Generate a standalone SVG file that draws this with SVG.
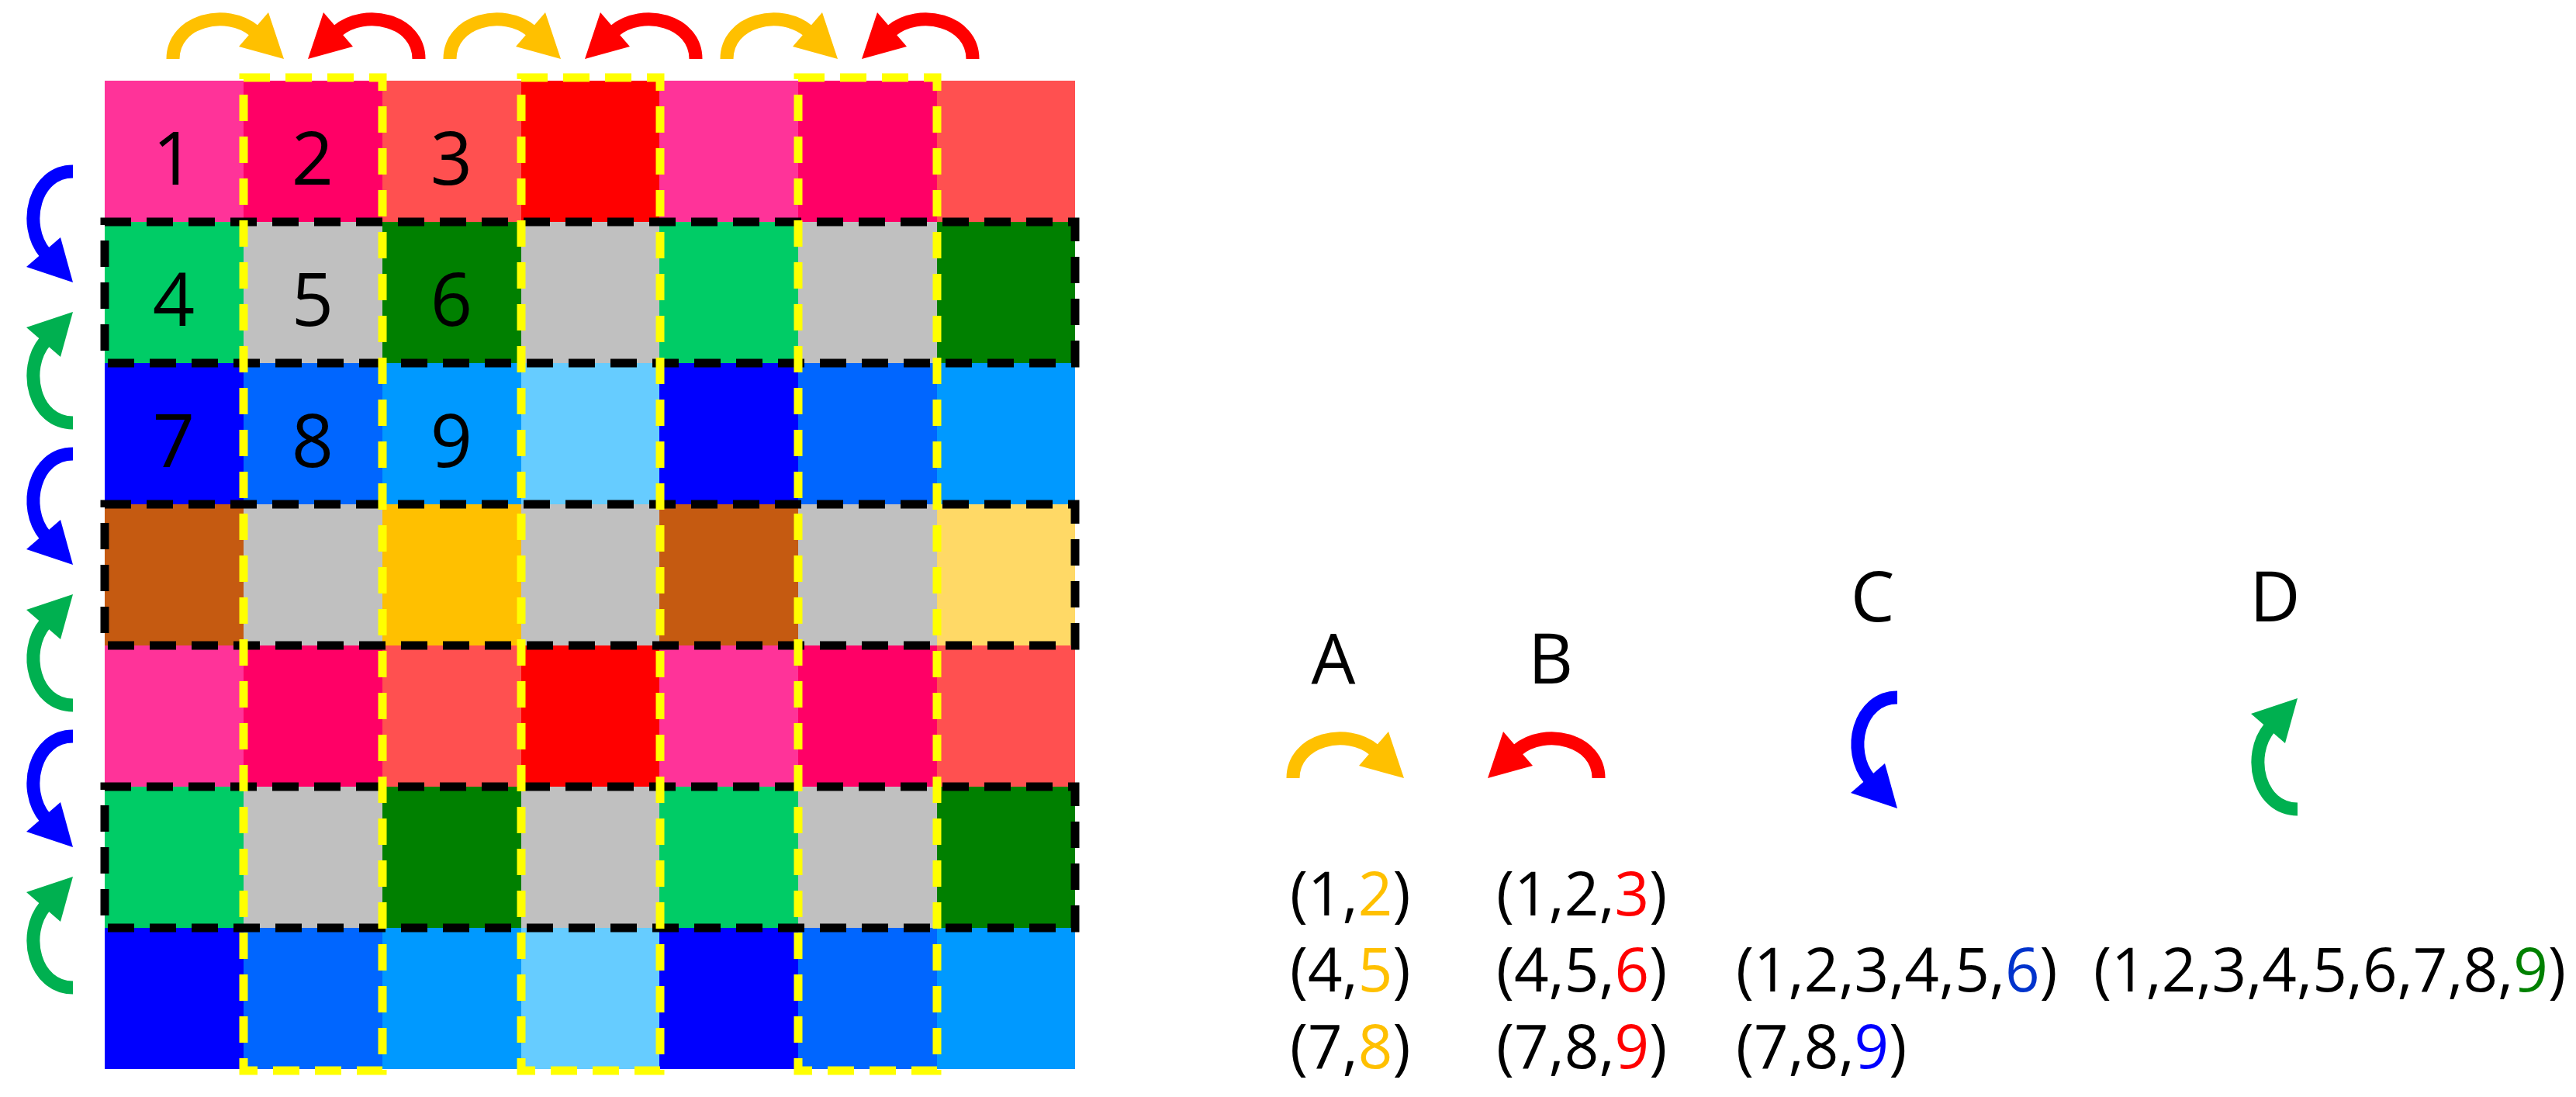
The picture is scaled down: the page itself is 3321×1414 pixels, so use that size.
<svg xmlns="http://www.w3.org/2000/svg" xmlns:xlink="http://www.w3.org/1999/xlink" width="3321" height="1414" viewBox="0 0 3321 1414">
<style>
text{font-family:"Open Sans","Noto Sans","Liberation Sans",sans-serif;fill:#000}
.d{font-size:95px;text-anchor:middle}
.l{font-size:90px;text-anchor:middle}
.t{font-size:78px}
.rowbox{fill:none;stroke:#000;stroke-width:11;stroke-dasharray:34 20}
.colbox{fill:none;stroke:#FFFF00;stroke-width:11;stroke-dasharray:34 20}
.o{fill:#FFC000;stroke:#FFC000}.r{fill:#FF0000;stroke:#FF0000}.b{fill:#0000FF;stroke:#0000FF}.g{fill:#00B050;stroke:#00B050}
</style>
<defs>
<g id="arr"><path d="M9,0 C9,-50 78,-66 114,-36" fill="none" stroke-width="17"/><polygon points="152,0 94,-16 132,-60" stroke="none"/></g>
</defs>
<rect width="3321" height="1414" fill="#fff"/>
<g id="grid">
<g id="row1"><rect x="135" y="104" width="179" height="182" fill="#FF3399"/><rect x="314" y="104" width="179" height="182" fill="#FF0066"/><rect x="493" y="104" width="179" height="182" fill="#FF5050"/><rect x="672" y="104" width="179" height="182" fill="#FF0000"/><rect x="850" y="104" width="179" height="182" fill="#FF3399"/><rect x="1029" y="104" width="179" height="182" fill="#FF0066"/><rect x="1208" y="104" width="178" height="182" fill="#FF5050"/></g>
<g id="row2"><rect x="135" y="286" width="179" height="182" fill="#00CC66"/><rect x="314" y="286" width="179" height="182" fill="#C0C0C0"/><rect x="493" y="286" width="179" height="182" fill="#008000"/><rect x="672" y="286" width="179" height="182" fill="#C0C0C0"/><rect x="850" y="286" width="179" height="182" fill="#00CC66"/><rect x="1029" y="286" width="179" height="182" fill="#C0C0C0"/><rect x="1208" y="286" width="178" height="182" fill="#008000"/></g>
<g id="row3"><rect x="135" y="468" width="179" height="182" fill="#0000FF"/><rect x="314" y="468" width="179" height="182" fill="#0066FF"/><rect x="493" y="468" width="179" height="182" fill="#0099FF"/><rect x="672" y="468" width="179" height="182" fill="#66CCFF"/><rect x="850" y="468" width="179" height="182" fill="#0000FF"/><rect x="1029" y="468" width="179" height="182" fill="#0066FF"/><rect x="1208" y="468" width="178" height="182" fill="#0099FF"/></g>
<g id="row4"><rect x="135" y="650" width="179" height="182" fill="#C55A11"/><rect x="314" y="650" width="179" height="182" fill="#C0C0C0"/><rect x="493" y="650" width="179" height="182" fill="#FFC000"/><rect x="672" y="650" width="179" height="182" fill="#C0C0C0"/><rect x="850" y="650" width="179" height="182" fill="#C55A11"/><rect x="1029" y="650" width="179" height="182" fill="#C0C0C0"/><rect x="1208" y="650" width="178" height="182" fill="#FFD966"/></g>
<use xlink:href="#row1" y="728"/>
<use xlink:href="#row2" y="728"/>
<use xlink:href="#row3" y="728"/>
<rect class="rowbox" x="135" y="286" width="1251" height="182"/>
<rect class="rowbox" x="135" y="650" width="1251" height="182"/>
<rect class="rowbox" x="135" y="1014" width="1251" height="182"/>
<rect class="colbox" x="314" y="100" width="179" height="1280"/>
<rect class="colbox" x="672" y="100" width="179" height="1280"/>
<rect class="colbox" x="1029" y="100" width="179" height="1280"/>
<text class="d" x="224" y="238">1</text><text class="d" x="403" y="238">2</text><text class="d" x="582" y="238">3</text>
<text class="d" x="224" y="420">4</text><text class="d" x="403" y="420">5</text><text class="d" x="582" y="420">6</text>
<text class="d" x="224" y="602">7</text><text class="d" x="403" y="602">8</text><text class="d" x="582" y="602">9</text>
</g>
<g id="connectors">
<use xlink:href="#arr" class="o" transform="translate(214,76)"/>
<use xlink:href="#arr" class="o" transform="translate(571,76)"/>
<use xlink:href="#arr" class="o" transform="translate(928,76)"/>
<use xlink:href="#arr" class="r" transform="matrix(-1,0,0,1,549,76)"/>
<use xlink:href="#arr" class="r" transform="matrix(-1,0,0,1,906,76)"/>
<use xlink:href="#arr" class="r" transform="matrix(-1,0,0,1,1263,76)"/>
<use xlink:href="#arr" class="b" transform="matrix(0,1,1,0,94,212)"/>
<use xlink:href="#arr" class="b" transform="matrix(0,1,1,0,94,576)"/>
<use xlink:href="#arr" class="b" transform="matrix(0,1,1,0,94,940)"/>
<use xlink:href="#arr" class="g" transform="matrix(0,-1,1,0,94,554)"/>
<use xlink:href="#arr" class="g" transform="matrix(0,-1,1,0,94,918)"/>
<use xlink:href="#arr" class="g" transform="matrix(0,-1,1,0,94,1282)"/>
</g>
<g id="legend">
<text class="l" x="1719" y="881">A</text>
<text class="l" x="1999" y="881">B</text>
<text class="l" x="2414" y="801">C</text>
<text class="l" x="2933" y="801">D</text>
<use xlink:href="#arr" class="o" transform="translate(1658,1003)"/>
<use xlink:href="#arr" class="r" transform="matrix(-1,0,0,1,2070,1003)"/>
<use xlink:href="#arr" class="b" transform="matrix(0,1,1,0,2446,890)"/>
<use xlink:href="#arr" class="g" transform="matrix(0,-1,1,0,2962,1052)"/>
<text class="t" x="1663" y="1180">(1,<tspan fill="#FFC000">2</tspan>)</text>
<text class="t" x="1663" y="1278">(4,<tspan fill="#FFC000">5</tspan>)</text>
<text class="t" x="1663" y="1377">(7,<tspan fill="#FFC000">8</tspan>)</text>
<text class="t" x="1929" y="1180">(1,2,<tspan fill="#FF0000">3</tspan>)</text>
<text class="t" x="1929" y="1278">(4,5,<tspan fill="#FF0000">6</tspan>)</text>
<text class="t" x="1929" y="1377">(7,8,<tspan fill="#FF0000">9</tspan>)</text>
<text class="t" x="2238" y="1278">(1,2,3,4,5,<tspan fill="#0033CC">6</tspan>)</text>
<text class="t" x="2238" y="1377">(7,8,<tspan fill="#0000FF">9</tspan>)</text>
<text class="t" x="2699" y="1278">(1,2,3,4,5,6,7,8,<tspan fill="#008000">9</tspan>)</text>
</g>
</svg>
